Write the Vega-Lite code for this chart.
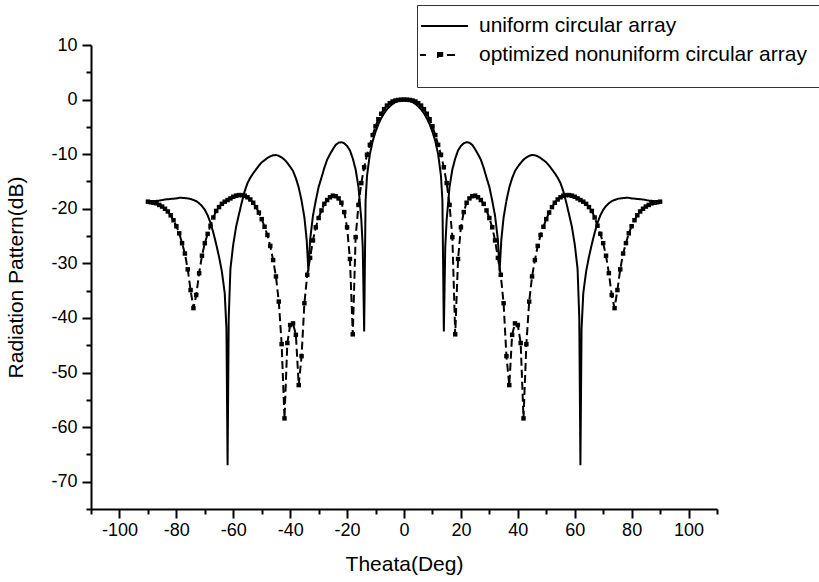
{
  "$schema": "https://vega.github.io/schema/vega-lite/v6.json",
  "width": 626,
  "height": 464,
  "autosize": {"type": "none"},
  "padding": {"left": 91, "top": 45, "right": 102, "bottom": 73},
  "background": "white",
  "config": {"view": {"stroke": null}, "font": "Liberation Sans"},
  "data": {"values": [
    {"series":"U","theta":-90,"db":-18.8},{"series":"U","theta":-88,"db":-18.6},{"series":"U","theta":-86,"db":-18.5},{"series":"U","theta":-84,"db":-18.3},{"series":"U","theta":-82,"db":-18.2},{"series":"U","theta":-80,"db":-18.1},{"series":"U","theta":-79,"db":-18},{"series":"U","theta":-78,"db":-18},{"series":"U","theta":-77,"db":-18.05},{"series":"U","theta":-76,"db":-18.1},{"series":"U","theta":-75,"db":-18.2},{"series":"U","theta":-74,"db":-18.4},{"series":"U","theta":-73,"db":-18.6},{"series":"U","theta":-72,"db":-19},{"series":"U","theta":-71,"db":-19.5},{"series":"U","theta":-70,"db":-20.2},{"series":"U","theta":-69,"db":-21.2},{"series":"U","theta":-68,"db":-22.6},{"series":"U","theta":-67,"db":-24.4},{"series":"U","theta":-66,"db":-26.5},{"series":"U","theta":-65,"db":-28.8},{"series":"U","theta":-64,"db":-31.5},{"series":"U","theta":-63,"db":-35.5},{"series":"U","theta":-62.4,"db":-42},{"series":"U","theta":-62,"db":-67},{"series":"U","theta":-61.6,"db":-40},{"series":"U","theta":-61,"db":-31},{"series":"U","theta":-60,"db":-26.5},{"series":"U","theta":-59,"db":-23.3},{"series":"U","theta":-58,"db":-21},{"series":"U","theta":-57,"db":-18.8},{"series":"U","theta":-56,"db":-16.8},{"series":"U","theta":-55,"db":-15.3},{"series":"U","theta":-54,"db":-14.3},{"series":"U","theta":-53,"db":-13.5},{"series":"U","theta":-52,"db":-12.8},{"series":"U","theta":-51,"db":-12.1},{"series":"U","theta":-50,"db":-11.5},{"series":"U","theta":-49,"db":-11.1},{"series":"U","theta":-48,"db":-10.7},{"series":"U","theta":-47,"db":-10.4},{"series":"U","theta":-46,"db":-10.2},{"series":"U","theta":-45,"db":-10.15},{"series":"U","theta":-44,"db":-10.3},{"series":"U","theta":-43,"db":-10.6},{"series":"U","theta":-42,"db":-11},{"series":"U","theta":-41,"db":-11.6},{"series":"U","theta":-40,"db":-12.3},{"series":"U","theta":-39,"db":-13.1},{"series":"U","theta":-38,"db":-14.4},{"series":"U","theta":-37,"db":-16.1},{"series":"U","theta":-36,"db":-18.5},{"series":"U","theta":-35,"db":-21.6},{"series":"U","theta":-34.2,"db":-25.7},{"series":"U","theta":-33.6,"db":-31.5},{"series":"U","theta":-33,"db":-25.7},{"series":"U","theta":-32,"db":-21.3},{"series":"U","theta":-31,"db":-18.5},{"series":"U","theta":-30,"db":-16},{"series":"U","theta":-29,"db":-14.3},{"series":"U","theta":-28,"db":-12.5},{"series":"U","theta":-27,"db":-11},{"series":"U","theta":-26,"db":-10},{"series":"U","theta":-25,"db":-9.1},{"series":"U","theta":-24,"db":-8.3},{"series":"U","theta":-23,"db":-7.9},{"series":"U","theta":-22,"db":-7.8},{"series":"U","theta":-21,"db":-8},{"series":"U","theta":-20,"db":-8.5},{"series":"U","theta":-19,"db":-9.3},{"series":"U","theta":-18,"db":-10.8},{"series":"U","theta":-17,"db":-12.8},{"series":"U","theta":-16,"db":-16},{"series":"U","theta":-15,"db":-22},{"series":"U","theta":-14.5,"db":-27},{"series":"U","theta":-14,"db":-42.5},{"series":"U","theta":-13.5,"db":-18.5},{"series":"U","theta":-13,"db":-14},{"series":"U","theta":-12,"db":-10},{"series":"U","theta":-11,"db":-7.6},{"series":"U","theta":-10,"db":-5.9},{"series":"U","theta":-9,"db":-4.5},{"series":"U","theta":-8,"db":-3.4},{"series":"U","theta":-7,"db":-2.5},{"series":"U","theta":-6,"db":-1.8},{"series":"U","theta":-5,"db":-1.25},{"series":"U","theta":-4,"db":-0.8},{"series":"U","theta":-3,"db":-0.45},{"series":"U","theta":-2,"db":-0.2},{"series":"U","theta":-1,"db":-0.05},
    {"series":"U","theta":0,"db":0},
    {"series":"U","theta":1,"db":-0.05},{"series":"U","theta":2,"db":-0.2},{"series":"U","theta":3,"db":-0.45},{"series":"U","theta":4,"db":-0.8},{"series":"U","theta":5,"db":-1.25},{"series":"U","theta":6,"db":-1.8},{"series":"U","theta":7,"db":-2.5},{"series":"U","theta":8,"db":-3.4},{"series":"U","theta":9,"db":-4.5},{"series":"U","theta":10,"db":-5.9},{"series":"U","theta":11,"db":-7.6},{"series":"U","theta":12,"db":-10},{"series":"U","theta":13,"db":-14},{"series":"U","theta":13.5,"db":-18.5},{"series":"U","theta":14,"db":-42.5},{"series":"U","theta":14.5,"db":-27},{"series":"U","theta":15,"db":-22},{"series":"U","theta":16,"db":-16},{"series":"U","theta":17,"db":-12.8},{"series":"U","theta":18,"db":-10.8},{"series":"U","theta":19,"db":-9.3},{"series":"U","theta":20,"db":-8.5},{"series":"U","theta":21,"db":-8},{"series":"U","theta":22,"db":-7.8},{"series":"U","theta":23,"db":-7.9},{"series":"U","theta":24,"db":-8.3},{"series":"U","theta":25,"db":-9.1},{"series":"U","theta":26,"db":-10},{"series":"U","theta":27,"db":-11},{"series":"U","theta":28,"db":-12.5},{"series":"U","theta":29,"db":-14.3},{"series":"U","theta":30,"db":-16},{"series":"U","theta":31,"db":-18.5},{"series":"U","theta":32,"db":-21.3},{"series":"U","theta":33,"db":-25.7},{"series":"U","theta":33.6,"db":-31.5},{"series":"U","theta":34.2,"db":-25.7},{"series":"U","theta":35,"db":-21.6},{"series":"U","theta":36,"db":-18.5},{"series":"U","theta":37,"db":-16.1},{"series":"U","theta":38,"db":-14.4},{"series":"U","theta":39,"db":-13.1},{"series":"U","theta":40,"db":-12.3},{"series":"U","theta":41,"db":-11.6},{"series":"U","theta":42,"db":-11},{"series":"U","theta":43,"db":-10.6},{"series":"U","theta":44,"db":-10.3},{"series":"U","theta":45,"db":-10.15},{"series":"U","theta":46,"db":-10.2},{"series":"U","theta":47,"db":-10.4},{"series":"U","theta":48,"db":-10.7},{"series":"U","theta":49,"db":-11.1},{"series":"U","theta":50,"db":-11.5},{"series":"U","theta":51,"db":-12.1},{"series":"U","theta":52,"db":-12.8},{"series":"U","theta":53,"db":-13.5},{"series":"U","theta":54,"db":-14.3},{"series":"U","theta":55,"db":-15.3},{"series":"U","theta":56,"db":-16.8},{"series":"U","theta":57,"db":-18.8},{"series":"U","theta":58,"db":-21},{"series":"U","theta":59,"db":-23.3},{"series":"U","theta":60,"db":-26.5},{"series":"U","theta":61,"db":-31},{"series":"U","theta":61.6,"db":-40},{"series":"U","theta":62,"db":-67},{"series":"U","theta":62.4,"db":-42},{"series":"U","theta":63,"db":-35.5},{"series":"U","theta":64,"db":-31.5},{"series":"U","theta":65,"db":-28.8},{"series":"U","theta":66,"db":-26.5},{"series":"U","theta":67,"db":-24.4},{"series":"U","theta":68,"db":-22.6},{"series":"U","theta":69,"db":-21.2},{"series":"U","theta":70,"db":-20.2},{"series":"U","theta":71,"db":-19.5},{"series":"U","theta":72,"db":-19},{"series":"U","theta":73,"db":-18.6},{"series":"U","theta":74,"db":-18.4},{"series":"U","theta":75,"db":-18.2},{"series":"U","theta":76,"db":-18.1},{"series":"U","theta":77,"db":-18.05},{"series":"U","theta":78,"db":-18},{"series":"U","theta":79,"db":-18},{"series":"U","theta":80,"db":-18.1},{"series":"U","theta":82,"db":-18.2},{"series":"U","theta":84,"db":-18.3},{"series":"U","theta":86,"db":-18.5},{"series":"U","theta":88,"db":-18.6},{"series":"U","theta":90,"db":-18.8},
    {"series":"O","theta":-90,"db":-18.7},{"series":"O","theta":-89,"db":-18.8},{"series":"O","theta":-88,"db":-18.9},{"series":"O","theta":-87,"db":-19},{"series":"O","theta":-86,"db":-19.3},{"series":"O","theta":-85,"db":-19.6},{"series":"O","theta":-84,"db":-20},{"series":"O","theta":-83,"db":-20.5},{"series":"O","theta":-82,"db":-21.2},{"series":"O","theta":-81,"db":-22.1},{"series":"O","theta":-80,"db":-23.2},{"series":"O","theta":-79,"db":-24.5},{"series":"O","theta":-78,"db":-26.3},{"series":"O","theta":-77,"db":-28.2},{"series":"O","theta":-76,"db":-31.1},{"series":"O","theta":-75,"db":-34.9},{"series":"O","theta":-74,"db":-38.2},{"series":"O","theta":-73,"db":-35.8},{"series":"O","theta":-72,"db":-31.8},{"series":"O","theta":-71,"db":-28.6},{"series":"O","theta":-70,"db":-26.3},{"series":"O","theta":-69,"db":-24.6},{"series":"O","theta":-68,"db":-23.1},{"series":"O","theta":-67,"db":-21.6},{"series":"O","theta":-66,"db":-20.4},{"series":"O","theta":-65,"db":-19.7},{"series":"O","theta":-64,"db":-19.1},{"series":"O","theta":-63,"db":-18.7},{"series":"O","theta":-62,"db":-18.4},{"series":"O","theta":-61,"db":-18.1},{"series":"O","theta":-60,"db":-17.8},{"series":"O","theta":-59,"db":-17.6},{"series":"O","theta":-58,"db":-17.5},{"series":"O","theta":-57,"db":-17.5},{"series":"O","theta":-56,"db":-17.6},{"series":"O","theta":-55,"db":-17.9},{"series":"O","theta":-54,"db":-18.3},{"series":"O","theta":-53,"db":-18.9},{"series":"O","theta":-52,"db":-19.7},{"series":"O","theta":-51,"db":-20.7},{"series":"O","theta":-50,"db":-21.9},{"series":"O","theta":-49,"db":-23.3},{"series":"O","theta":-48,"db":-24.8},{"series":"O","theta":-47,"db":-26.8},{"series":"O","theta":-46,"db":-29.4},{"series":"O","theta":-45,"db":-32.4},{"series":"O","theta":-44,"db":-37},{"series":"O","theta":-43,"db":-44.8},{"series":"O","theta":-42,"db":-58.4},{"series":"O","theta":-41,"db":-44.6},{"series":"O","theta":-40,"db":-41.3},{"series":"O","theta":-39,"db":-41},{"series":"O","theta":-38,"db":-43.1},{"series":"O","theta":-37,"db":-52.3},{"series":"O","theta":-36,"db":-47},{"series":"O","theta":-35,"db":-37.3},{"series":"O","theta":-34,"db":-32.1},{"series":"O","theta":-33,"db":-29},{"series":"O","theta":-32,"db":-25.8},{"series":"O","theta":-31,"db":-23.4},{"series":"O","theta":-30,"db":-21.7},{"series":"O","theta":-29,"db":-20.3},{"series":"O","theta":-28,"db":-19.1},{"series":"O","theta":-27,"db":-18.4},{"series":"O","theta":-26,"db":-17.9},{"series":"O","theta":-25,"db":-17.6},{"series":"O","theta":-24,"db":-17.7},{"series":"O","theta":-23,"db":-18.1},{"series":"O","theta":-22,"db":-18.9},{"series":"O","theta":-21,"db":-20.6},{"series":"O","theta":-20,"db":-23.4},{"series":"O","theta":-19,"db":-29.2},{"series":"O","theta":-18,"db":-43},{"series":"O","theta":-17,"db":-25.2},{"series":"O","theta":-16,"db":-19.3},{"series":"O","theta":-15,"db":-15.3},{"series":"O","theta":-14,"db":-12.4},{"series":"O","theta":-13,"db":-10.1},{"series":"O","theta":-12,"db":-8.3},{"series":"O","theta":-11,"db":-6.5},{"series":"O","theta":-10,"db":-4.9},{"series":"O","theta":-9,"db":-3.6},{"series":"O","theta":-8,"db":-2.6},{"series":"O","theta":-7,"db":-1.75},{"series":"O","theta":-6,"db":-1.1},{"series":"O","theta":-5,"db":-0.65},{"series":"O","theta":-4,"db":-0.35},{"series":"O","theta":-3,"db":-0.17},{"series":"O","theta":-2,"db":-0.07},{"series":"O","theta":-1,"db":-0.02},
    {"series":"O","theta":0,"db":0},
    {"series":"O","theta":1,"db":-0.02},{"series":"O","theta":2,"db":-0.07},{"series":"O","theta":3,"db":-0.17},{"series":"O","theta":4,"db":-0.35},{"series":"O","theta":5,"db":-0.65},{"series":"O","theta":6,"db":-1.1},{"series":"O","theta":7,"db":-1.75},{"series":"O","theta":8,"db":-2.6},{"series":"O","theta":9,"db":-3.6},{"series":"O","theta":10,"db":-4.9},{"series":"O","theta":11,"db":-6.5},{"series":"O","theta":12,"db":-8.3},{"series":"O","theta":13,"db":-10.1},{"series":"O","theta":14,"db":-12.4},{"series":"O","theta":15,"db":-15.3},{"series":"O","theta":16,"db":-19.3},{"series":"O","theta":17,"db":-25.2},{"series":"O","theta":18,"db":-43},{"series":"O","theta":19,"db":-29.2},{"series":"O","theta":20,"db":-23.4},{"series":"O","theta":21,"db":-20.6},{"series":"O","theta":22,"db":-18.9},{"series":"O","theta":23,"db":-18.1},{"series":"O","theta":24,"db":-17.7},{"series":"O","theta":25,"db":-17.6},{"series":"O","theta":26,"db":-17.9},{"series":"O","theta":27,"db":-18.4},{"series":"O","theta":28,"db":-19.1},{"series":"O","theta":29,"db":-20.3},{"series":"O","theta":30,"db":-21.7},{"series":"O","theta":31,"db":-23.4},{"series":"O","theta":32,"db":-25.8},{"series":"O","theta":33,"db":-29},{"series":"O","theta":34,"db":-32.1},{"series":"O","theta":35,"db":-37.3},{"series":"O","theta":36,"db":-47},{"series":"O","theta":37,"db":-52.3},{"series":"O","theta":38,"db":-43.1},{"series":"O","theta":39,"db":-41},{"series":"O","theta":40,"db":-41.3},{"series":"O","theta":41,"db":-44.6},{"series":"O","theta":42,"db":-58.4},{"series":"O","theta":43,"db":-44.8},{"series":"O","theta":44,"db":-37},{"series":"O","theta":45,"db":-32.4},{"series":"O","theta":46,"db":-29.4},{"series":"O","theta":47,"db":-26.8},{"series":"O","theta":48,"db":-24.8},{"series":"O","theta":49,"db":-23.3},{"series":"O","theta":50,"db":-21.9},{"series":"O","theta":51,"db":-20.7},{"series":"O","theta":52,"db":-19.7},{"series":"O","theta":53,"db":-18.9},{"series":"O","theta":54,"db":-18.3},{"series":"O","theta":55,"db":-17.9},{"series":"O","theta":56,"db":-17.6},{"series":"O","theta":57,"db":-17.5},{"series":"O","theta":58,"db":-17.5},{"series":"O","theta":59,"db":-17.6},{"series":"O","theta":60,"db":-17.8},{"series":"O","theta":61,"db":-18.1},{"series":"O","theta":62,"db":-18.4},{"series":"O","theta":63,"db":-18.7},{"series":"O","theta":64,"db":-19.1},{"series":"O","theta":65,"db":-19.7},{"series":"O","theta":66,"db":-20.4},{"series":"O","theta":67,"db":-21.6},{"series":"O","theta":68,"db":-23.1},{"series":"O","theta":69,"db":-24.6},{"series":"O","theta":70,"db":-26.3},{"series":"O","theta":71,"db":-28.6},{"series":"O","theta":72,"db":-31.8},{"series":"O","theta":73,"db":-35.8},{"series":"O","theta":74,"db":-38.2},{"series":"O","theta":75,"db":-34.9},{"series":"O","theta":76,"db":-31.1},{"series":"O","theta":77,"db":-28.2},{"series":"O","theta":78,"db":-26.3},{"series":"O","theta":79,"db":-24.5},{"series":"O","theta":80,"db":-23.2},{"series":"O","theta":81,"db":-22.1},{"series":"O","theta":82,"db":-21.2},{"series":"O","theta":83,"db":-20.5},{"series":"O","theta":84,"db":-20},{"series":"O","theta":85,"db":-19.6},{"series":"O","theta":86,"db":-19.3},{"series":"O","theta":87,"db":-19},{"series":"O","theta":88,"db":-18.9},{"series":"O","theta":89,"db":-18.8},{"series":"O","theta":90,"db":-18.7}
  ]},
  "encoding": {
    "x": {
      "field": "theta", "type": "quantitative",
      "scale": {"domain": [-110, 110], "nice": false, "zero": false},
      "title": "Theata(Deg)",
      "axis": {
        "values": [-110,-100,-90,-80,-70,-60,-50,-40,-30,-20,-10,0,10,20,30,40,50,60,70,80,90,100,110],
        "labelExpr": "datum.value % 20 == 0 ? '' + datum.value : ''",
        "tickSize": {"condition": {"test": "datum.value % 20 == 0", "value": 9}, "value": 5},
        "grid": false, "domainColor": "black", "domainWidth": 2, "tickColor": "black", "tickWidth": 2,
        "labelFont": "Liberation Sans", "labelFontSize": 18, "labelColor": "black", "labelPadding": 3, "labelFlush": false, "labelOverlap": false,
        "titleFont": "Liberation Sans", "titleFontSize": 21, "titleFontWeight": "normal", "titleColor": "black", "titlePadding": 14
      }
    },
    "y": {
      "field": "db", "type": "quantitative",
      "scale": {"domain": [-75, 10], "nice": false, "zero": false},
      "title": "Radiation Pattern(dB)",
      "axis": {
        "values": [-75,-70,-65,-60,-55,-50,-45,-40,-35,-30,-25,-20,-15,-10,-5,0,5,10],
        "labelExpr": "datum.value % 10 == 0 ? '' + datum.value : ''",
        "tickSize": {"condition": {"test": "datum.value % 10 == 0", "value": 9}, "value": 5},
        "grid": false, "domainColor": "black", "domainWidth": 2, "tickColor": "black", "tickWidth": 2,
        "labelFont": "Liberation Sans", "labelFontSize": 18, "labelColor": "black", "labelPadding": 5, "labelFlush": false, "labelOverlap": false,
        "titleFont": "Liberation Sans", "titleFontSize": 21, "titleFontWeight": "normal", "titleColor": "black", "titlePadding": 24
      }
    }
  },
  "layer": [
    {
      "mark": {"type": "line", "color": "black", "strokeWidth": 2},
      "encoding": {
        "strokeDash": {
          "field": "series", "type": "nominal",
          "scale": {"domain": ["U", "O"], "range": [[1, 0], [8, 4]]},
          "legend": {
            "orient": "none", "legendX": 326, "legendY": -40, "direction": "vertical",
            "title": "\u200b                                                                                                                                                                                                        \u200b",
            "titleOrient": "bottom", "titleFontSize": 8, "titleLimit": 3000, "titlePadding": 8,
            "strokeColor": "#333333", "fillColor": "white", "padding": 6,
            "labelFont": "Liberation Sans", "labelFontSize": 21, "labelColor": "black", "labelOffset": 26, "labelLimit": 1000,
            "labelExpr": "datum.value == 'U' ? 'uniform circular array' : 'optimized nonuniform circular array'",
            "symbolSize": 784, "symbolStrokeWidth": 2, "symbolStrokeColor": "black", "symbolFillColor": "black", "rowPadding": 4,
            "encode": {
              "symbols": {
                "update": {
                  "shape": {"signal": "datum.value == 'U' ? 'M-1.21,0H2.14' : 'M-1.29,0H-0.86M0,-0.15H0.3V0.15H0Z M0.64,0H1.43'"},
                  "strokeDash": {"value": [1, 0]},
                  "fill": {"value": "black"},
                  "stroke": {"value": "black"},
                  "strokeWidth": {"value": 2}
                }
              }
            }
          }
        }
      }
    },
    {
      "transform": [{"filter": "datum.series == 'O'"}],
      "mark": {"type": "point", "shape": "square", "filled": true, "color": "black", "size": 20, "opacity": 1}
    }
  ]
}
